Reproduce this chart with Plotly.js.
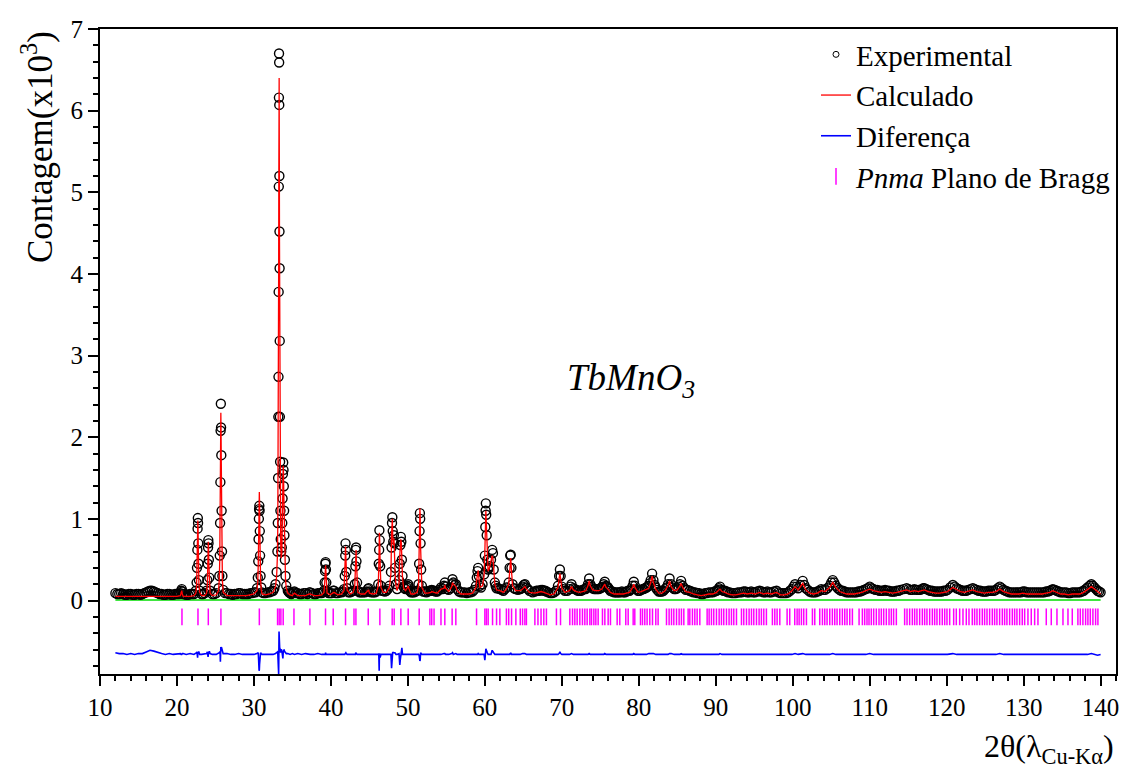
<!DOCTYPE html>
<html>
<head>
<meta charset="utf-8">
<script src="https://cdn.plot.ly/plotly-3.0.1.min.js"></script>
<style>html,body{margin:0;padding:0;background:#fff}#chart{width:1123px;height:768px}</style>
</head>
<body>
<div id="chart"></div>
<script>
// 2theta (degrees) of sampled points (observed + calculated)
const twoTheta = [
12.0,12.5,13.0,13.5,14.0,14.5,15.0,15.5,16.0,16.5,17.0,17.5,18.0,18.5,19.0,19.5,20.0,
20.45,20.55,20.62,20.7,20.8,21.2,21.7,22.2,
22.45,22.55,22.6,22.65,22.68,22.71,22.74,22.77,22.8,22.85,22.95,
23.2,23.6,23.85,23.95,24.0,24.04,24.07,24.1,24.14,24.2,24.3,24.6,25.1,
25.4,25.5,25.56,25.6,25.64,25.67,25.7,25.73,25.76,25.8,25.85,25.9,26.0,
26.5,27.0,27.5,28.0,28.5,29.0,29.5,30.0,
30.4,30.5,30.56,30.6,30.64,30.67,30.7,30.73,30.76,30.8,30.86,30.95,31.05,
31.5,32.0,32.5,
32.8,32.95,33.05,33.1,33.14,33.17,33.19,33.21,33.23,33.245,33.26,33.275,33.29,33.305,33.32,33.335,33.35,33.37,33.4,33.44,33.48,
33.55,33.62,33.68,33.72,33.76,33.8,33.84,33.88,33.92,33.96,34.02,34.1,34.2,34.4,
34.7,35.0,35.15,35.25,35.7,36.2,36.7,37.2,37.3,37.8,38.3,38.8,
39.1,39.18,39.24,39.28,39.31,39.35,39.4,39.5,39.9,40.3,40.4,40.9,41.4,
41.7,41.8,41.86,41.9,41.94,42.0,42.1,42.5,42.9,43.1,43.18,43.23,43.27,43.32,43.4,43.5,
43.9,44.4,44.8,44.9,45.0,45.5,45.9,46.15,46.22,46.27,46.3,46.34,46.4,46.5,
46.8,47.2,47.6,47.8,47.88,47.94,47.98,48.03,48.1,48.18,48.24,48.32,48.45,48.6,
48.85,48.95,49.02,49.09,49.15,49.22,49.3,49.45,49.7,49.95,50.04,50.12,50.4,50.8,51.2,
51.38,51.46,51.52,51.56,51.6,51.65,51.72,51.82,52.2,52.6,
53.0,53.1,53.4,53.8,54.3,54.7,54.8,54.9,55.3,55.7,55.8,55.9,56.23,56.4,
56.9,57.4,57.9,58.4,58.85,58.95,59.05,59.13,59.22,59.35,
59.7,59.9,60.0,60.06,60.1,60.13,60.18,60.24,60.32,60.42,
60.6,60.8,60.95,61.05,61.15,61.3,61.52,61.95,62.4,62.8,63.1,63.22,63.3,63.36,63.45,63.6,64.0,
64.6,64.9,65.2,65.4,65.8,66.5,66.9,67.3,67.66,68.0,68.5,69.0,69.5,69.65,69.75,69.85,70.0,70.4,
71.0,71.26,71.5,71.9,72.3,72.7,73.1,73.4,73.55,73.7,74.0,74.4,74.8,75.2,75.45,75.58,75.75,76.0,76.3,
76.8,77.2,77.6,78.0,78.4,78.8,79.2,79.35,79.5,79.9,80.3,80.6,81.0,81.3,81.55,81.73,81.9,82.2,82.6,83.0,83.4,
83.8,84.0,84.2,84.6,85.0,85.35,85.5,85.7,86.1,86.6,87.1,87.6,88.1,88.6,89.1,89.6,90.1,
90.4,90.55,90.8,91.2,91.6,92.1,92.6,93.1,93.6,94.1,94.6,95.1,95.7,96.2,96.7,97.2,97.9,98.4,98.9,99.4,99.9,
100.3,100.7,101.3,101.7,102.2,102.7,103.2,103.7,104.2,104.8,105.2,105.6,106.1,106.5,107.0,107.5,108.0,108.5,109.0,109.5,
110.0,110.5,111.0,111.5,112.0,112.5,113.0,113.5,114.0,114.8,115.3,115.8,116.3,116.8,117.1,117.6,118.1,118.6,119.1,119.6,
120.1,120.8,121.3,121.8,122.3,122.8,123.4,123.9,124.4,124.9,125.4,125.9,126.4,126.9,127.4,127.9,128.4,128.9,129.4,129.9,
130.4,130.9,131.4,131.9,132.4,132.9,133.4,133.8,134.3,134.8,135.3,135.8,136.3,136.8,137.3,137.8,138.3,138.8,139.2,139.6,140.0
];
// observed counts (x10^3)
const yObs = [
0.09,0.08,0.08,0.07,0.08,0.07,0.08,0.08,0.10,0.12,0.11,0.09,0.08,0.07,0.08,0.07,0.08,
0.09,0.12,0.14,0.11,0.08,0.07,0.08,0.08,
0.12,0.22,0.40,0.62,0.88,1.01,0.95,0.70,0.45,0.25,0.12,
0.08,0.09,0.12,0.25,0.45,0.65,0.74,0.70,0.50,0.28,0.12,0.08,0.09,
0.15,0.30,0.55,0.95,1.45,2.08,2.41,2.12,1.78,1.10,0.60,0.30,0.13,
0.09,0.08,0.08,0.09,0.08,0.08,0.09,0.10,
0.15,0.28,0.48,0.75,1.00,1.12,1.16,1.10,0.85,0.55,0.30,0.16,0.10,
0.09,0.10,0.12,
0.20,0.35,0.60,0.95,1.50,2.25,2.74,3.78,5.07,6.16,6.70,6.59,6.07,5.20,4.52,4.07,3.18,2.25,1.70,1.10,0.75,
0.60,0.65,0.95,1.25,1.55,1.69,1.60,1.40,1.10,0.80,0.50,0.30,0.18,0.12,
0.09,0.09,0.10,0.11,0.09,0.08,0.09,0.10,0.10,0.08,0.09,0.09,
0.12,0.22,0.36,0.45,0.47,0.38,0.22,0.11,0.09,0.12,0.12,0.09,0.10,
0.14,0.30,0.55,0.70,0.62,0.35,0.15,0.10,0.12,0.20,0.42,0.62,0.65,0.48,0.22,0.12,
0.10,0.10,0.14,0.15,0.11,0.10,0.11,0.20,0.45,0.62,0.86,0.74,0.42,0.18,
0.12,0.12,0.18,0.35,0.65,0.95,1.02,0.85,0.72,0.80,0.70,0.40,0.20,0.14,
0.25,0.45,0.68,0.78,0.72,0.50,0.30,0.17,0.14,0.18,0.20,0.17,0.10,0.10,0.12,
0.20,0.45,0.85,1.07,1.00,0.70,0.38,0.18,0.11,0.11,
0.12,0.13,0.12,0.11,0.16,0.18,0.22,0.17,0.13,0.20,0.26,0.22,0.20,0.14,
0.10,0.10,0.10,0.11,0.18,0.28,0.36,0.40,0.30,0.18,
0.20,0.32,0.55,0.90,1.10,1.19,1.05,0.80,0.50,0.38,
0.42,0.50,0.62,0.58,0.38,0.22,0.15,0.14,0.12,0.16,0.22,0.40,0.55,0.56,0.40,0.20,0.14,
0.14,0.17,0.20,0.16,0.12,0.11,0.12,0.13,0.12,0.11,0.09,0.10,0.18,0.30,0.38,0.30,0.17,0.12,
0.14,0.20,0.15,0.13,0.12,0.13,0.14,0.20,0.27,0.20,0.15,0.14,0.14,0.16,0.20,0.23,0.18,0.16,0.12,
0.10,0.10,0.10,0.10,0.11,0.12,0.18,0.23,0.18,0.12,0.13,0.14,0.16,0.18,0.25,0.33,0.25,0.16,0.11,0.11,0.14,
0.20,0.27,0.20,0.14,0.15,0.20,0.24,0.18,0.13,0.12,0.10,0.09,0.08,0.09,0.10,0.10,0.12,
0.15,0.17,0.13,0.12,0.10,0.09,0.09,0.10,0.11,0.10,0.11,0.10,0.12,0.10,0.11,0.10,0.12,0.09,0.09,0.10,0.14,
0.20,0.15,0.24,0.15,0.11,0.10,0.11,0.14,0.13,0.18,0.25,0.18,0.13,0.12,0.10,0.10,0.10,0.11,0.12,0.14,
0.17,0.14,0.13,0.12,0.13,0.12,0.11,0.12,0.13,0.15,0.13,0.14,0.13,0.14,0.15,0.13,0.12,0.11,0.11,0.12,
0.13,0.19,0.15,0.13,0.12,0.13,0.15,0.13,0.12,0.11,0.12,0.12,0.13,0.17,0.13,0.11,0.10,0.10,0.10,0.11,
0.10,0.10,0.10,0.10,0.10,0.11,0.12,0.14,0.12,0.10,0.10,0.09,0.10,0.10,0.10,0.12,0.16,0.20,0.16,0.12,0.10
];
// calculated counts (x10^3)
const yCalc = [
0.05,0.05,0.05,0.05,0.05,0.05,0.05,0.05,0.05,0.05,0.05,0.05,0.05,0.05,0.05,0.05,0.05,
0.06,0.10,0.12,0.08,0.05,0.05,0.05,0.06,
0.09,0.18,0.35,0.60,0.90,0.98,0.90,0.66,0.40,0.20,0.10,
0.06,0.06,0.09,0.20,0.42,0.66,0.72,0.66,0.45,0.22,0.09,0.06,0.07,
0.12,0.26,0.50,0.90,1.52,2.10,2.30,2.05,1.68,1.00,0.52,0.25,0.10,
0.06,0.06,0.06,0.06,0.06,0.06,0.07,0.08,
0.12,0.24,0.44,0.78,1.10,1.30,1.33,1.20,0.90,0.52,0.26,0.13,0.08,
0.07,0.08,0.10,
0.17,0.30,0.55,0.92,1.55,2.40,2.96,4.00,5.10,6.00,6.40,6.40,5.90,5.10,4.40,3.95,3.10,2.15,1.62,1.05,0.70,
0.52,0.58,0.92,1.28,1.58,1.65,1.55,1.32,1.02,0.74,0.45,0.26,0.15,0.09,
0.07,0.06,0.08,0.09,0.06,0.06,0.06,0.08,0.08,0.06,0.06,0.07,
0.10,0.20,0.34,0.42,0.43,0.36,0.20,0.09,0.07,0.10,0.10,0.07,0.08,
0.12,0.28,0.52,0.66,0.58,0.32,0.13,0.08,0.10,0.18,0.40,0.58,0.62,0.46,0.20,0.10,
0.08,0.08,0.12,0.13,0.09,0.08,0.09,0.18,0.42,0.80,0.83,0.72,0.44,0.16,
0.10,0.10,0.16,0.33,0.80,0.96,1.00,0.80,0.68,0.76,0.66,0.36,0.18,0.12,
0.22,0.56,0.72,0.75,0.70,0.40,0.28,0.15,0.12,0.16,0.18,0.15,0.08,0.08,0.10,
0.18,0.44,0.90,1.13,1.05,0.66,0.36,0.16,0.09,0.09,
0.10,0.11,0.10,0.09,0.14,0.15,0.19,0.15,0.11,0.17,0.22,0.20,0.17,0.12,
0.08,0.08,0.08,0.09,0.16,0.26,0.34,0.37,0.28,0.16,
0.18,0.30,0.60,0.92,1.05,1.10,0.98,0.72,0.46,0.36,
0.40,0.48,0.55,0.52,0.34,0.20,0.13,0.12,0.10,0.14,0.20,0.38,0.52,0.52,0.38,0.18,0.12,
0.12,0.14,0.17,0.14,0.10,0.09,0.10,0.11,0.10,0.09,0.07,0.08,0.16,0.27,0.33,0.27,0.15,0.10,
0.12,0.17,0.13,0.11,0.10,0.11,0.12,0.18,0.24,0.18,0.13,0.12,0.12,0.14,0.18,0.20,0.16,0.14,0.10,
0.08,0.08,0.08,0.08,0.09,0.10,0.16,0.20,0.16,0.10,0.11,0.12,0.14,0.15,0.22,0.30,0.22,0.14,0.09,0.09,0.12,
0.18,0.24,0.17,0.12,0.13,0.18,0.21,0.16,0.11,0.10,0.08,0.07,0.06,0.07,0.08,0.08,0.10,
0.13,0.14,0.11,0.10,0.08,0.07,0.07,0.08,0.09,0.08,0.09,0.08,0.10,0.08,0.09,0.08,0.10,0.07,0.07,0.08,0.12,
0.17,0.13,0.21,0.13,0.09,0.08,0.09,0.12,0.11,0.16,0.22,0.16,0.11,0.10,0.08,0.08,0.08,0.09,0.10,0.12,
0.14,0.12,0.11,0.10,0.11,0.10,0.09,0.10,0.11,0.13,0.11,0.12,0.11,0.12,0.13,0.11,0.10,0.09,0.09,0.10,
0.11,0.16,0.13,0.11,0.10,0.11,0.13,0.11,0.10,0.09,0.10,0.10,0.11,0.14,0.11,0.09,0.08,0.08,0.08,0.09,
0.08,0.08,0.08,0.08,0.08,0.09,0.10,0.12,0.10,0.08,0.08,0.07,0.08,0.08,0.08,0.10,0.14,0.17,0.14,0.11,0.08
];
// additional observed points between the sampled ones (background regions)
const extraTheta = [
12.25,12.75,13.25,13.75,14.25,14.75,15.25,15.75,16.25,16.75,17.25,17.75,18.25,18.75,19.25,19.75,
20.25,20.95,21.45,21.95,23.4,24.85,26.25,26.75,27.25,27.75,28.25,28.75,29.25,29.75,30.2,31.25,31.75,32.25,32.65,
34.55,34.85,35.45,35.95,36.45,36.95,37.55,38.05,38.55,38.95,39.7,40.1,40.65,41.15,41.55,42.3,42.7,43.7,44.15,44.6,
45.25,45.7,46.65,47.0,47.4,49.55,49.85,50.25,50.6,51.0,52.0,52.4,52.8,53.25,53.6,54.05,54.5,55.1,55.5,56.1,
56.65,57.15,57.65,58.15,58.6,59.5,60.5,61.4,61.75,62.2,62.6,63.8,64.3,64.75,65.05,65.6,66.2,66.7,67.1,67.5,
67.85,68.25,68.75,69.25,70.2,70.7,71.15,71.7,72.1,72.5,72.9,73.25,73.85,74.2,74.6,75.0,75.3,75.9,76.15,76.55,
77.0,77.4,77.8,78.2,78.6,79.0,79.7,80.1,80.45,80.8,81.15,81.4,82.05,82.4,82.8,83.2,83.6,84.4,84.8,85.2,
85.9,86.35,86.85,87.35,87.85,88.35,88.85,89.35,89.85,90.25,91.0,91.4,91.85,92.35,92.85,93.35,93.85,94.35,94.85,95.4,
95.95,96.45,96.95,97.55,98.15,98.65,99.15,99.65,100.1,100.5,101.0,101.5,101.95,102.45,102.95,103.45,103.95,104.5,105.0,105.4,
105.85,106.3,106.75,107.25,107.75,108.25,108.75,109.25,109.75,110.25,110.75,111.25,111.75,112.25,112.75,113.25,113.75,114.4,115.05,115.55,
116.05,116.55,116.95,117.35,117.85,118.35,118.85,119.35,119.85,120.45,121.05,121.55,122.05,122.55,123.1,123.65,124.15,124.65,125.15,125.65,
126.15,126.65,127.15,127.65,128.15,128.65,129.15,129.65,130.15,130.65,131.15,131.65,132.15,132.65,133.15,133.6,134.05,134.55,135.05,135.55,
136.05,136.55,137.05,137.55,138.05,138.55,139.0,139.4,139.8
];
const extraObs = [
0.08,0.09,0.07,0.08,0.07,0.08,0.07,0.09,0.11,0.12,0.10,0.08,0.07,0.08,0.07,0.08,
0.08,0.08,0.07,0.08,0.08,0.08,0.09,0.08,0.07,0.08,0.09,0.08,0.08,0.09,0.10,0.09,0.10,0.11,0.15,
0.10,0.08,0.09,0.08,0.09,0.08,0.09,0.08,0.09,0.10,0.09,0.09,0.09,0.10,0.11,0.10,0.11,0.10,0.10,0.11,
0.10,0.10,0.12,0.11,0.14,0.15,0.16,0.12,0.10,0.11,0.11,0.10,0.12,0.12,0.11,0.13,0.14,0.14,0.15,0.19,
0.11,0.10,0.09,0.10,0.13,0.16,0.40,0.18,0.15,0.13,0.14,0.15,0.13,0.15,0.19,0.14,0.10,0.12,0.12,0.13,
0.12,0.10,0.09,0.12,0.14,0.12,0.17,0.14,0.12,0.12,0.14,0.16,0.17,0.14,0.14,0.15,0.17,0.17,0.14,0.11,
0.10,0.10,0.11,0.10,0.12,0.14,0.14,0.12,0.14,0.15,0.17,0.21,0.19,0.13,0.11,0.12,0.16,0.16,0.14,0.17,
0.15,0.13,0.11,0.10,0.09,0.08,0.09,0.10,0.11,0.13,0.12,0.11,0.10,0.09,0.10,0.10,0.11,0.10,0.10,0.11,
0.11,0.10,0.10,0.11,0.10,0.09,0.09,0.12,0.17,0.17,0.19,0.19,0.13,0.10,0.10,0.12,0.13,0.15,0.22,0.22,
0.15,0.12,0.11,0.10,0.10,0.10,0.11,0.13,0.15,0.15,0.13,0.12,0.12,0.12,0.11,0.11,0.12,0.14,0.14,0.13,
0.13,0.13,0.15,0.14,0.12,0.11,0.11,0.11,0.12,0.16,0.17,0.14,0.12,0.12,0.14,0.14,0.12,0.11,0.11,0.12,
0.12,0.15,0.15,0.12,0.10,0.10,0.10,0.10,0.11,0.10,0.10,0.10,0.10,0.10,0.11,0.13,0.13,0.11,0.10,0.10,
0.09,0.10,0.10,0.11,0.14,0.18,0.18,0.14,0.11
];
// background curve
const bgTheta = [12.0, 140.0];
const bgCounts = [0.005, 0.005];
// Bragg reflection positions (Pnma)
const braggPos = [
20.65,22.73,24.07,25.71,30.7,33.07,33.28,33.5,33.8,35.2,37.27,39.3,40.3,41.9,43.0,43.25,44.85,46.36,47.96,48.22,
49.09,50.04,51.47,52.86,53.1,53.4,54.3,54.8,55.75,56.23,58.92,60.0,60.2,60.43,61.0,61.52,61.95,62.8,63.1,63.47,
64.03,64.6,64.9,65.2,65.4,66.5,66.9,67.3,67.66,68.0,69.3,69.83,71.04,71.39,71.69,71.99,72.34,72.68,72.99,73.29,
73.64,73.86,74.16,74.42,74.72,75.28,75.59,76.02,76.32,77.19,77.53,78.31,78.62,79.27,79.48,80.22,80.48,80.78,81.08,81.43,
81.78,82.21,82.51,83.6,83.94,84.25,84.55,84.9,85.24,85.54,85.85,86.41,86.63,86.97,87.28,87.58,87.93,88.88,89.14,89.44,
89.74,90.09,90.44,90.74,91.04,91.39,91.73,92.04,92.34,92.69,93.34,93.64,93.99,94.33,94.64,94.94,95.29,95.63,95.93,96.24,
96.58,97.36,97.67,97.97,98.32,99.27,99.61,100.26,100.57,100.83,101.13,101.43,101.78,102.56,102.86,103.51,103.86,104.16,104.46,104.81,
105.15,105.46,105.76,106.11,106.45,106.76,107.06,107.41,107.75,108.62,109.05,109.35,109.65,109.91,110.21,110.52,110.86,111.21,111.51,111.82,
112.16,112.51,112.81,113.11,113.46,114.54,114.85,115.19,115.54,115.84,116.14,116.49,116.84,117.14,117.44,117.79,118.14,118.44,118.74,119.09,
119.43,119.74,120.04,120.39,120.91,121.25,121.69,122.12,122.55,122.9,123.33,123.63,123.94,124.28,124.63,124.93,125.24,125.58,125.93,126.23,
126.53,126.88,127.23,127.53,127.83,128.18,128.53,128.83,129.13,129.48,129.82,130.13,130.56,130.99,131.43,131.86,132.94,133.59,134.33,135.11,
135.76,136.32,137.05,137.36,137.7,138.05,138.35,138.66,139.0,139.35,139.65
];
const diffOffset = -0.68;
const braggLevel = -0.2;

const yDiff = yObs.map((v, i) => v - yCalc[i] + diffOffset);
const braggY = braggPos.map(() => braggLevel);
const obsX = twoTheta.concat(extraTheta);
const obsY = yObs.concat(extraObs);

const FONT = 'Liberation Serif, Times New Roman, serif';

const traces = [
  {x: bgTheta, y: bgCounts, type: 'scatter', mode: 'lines', line: {color: '#00dd00', width: 1.5}, showlegend: false, hoverinfo: 'skip'},
  {x: obsX, y: obsY, type: 'scatter', mode: 'markers', name: 'Experimental', showlegend: false,
   marker: {symbol: 'circle-open', size: 9, color: '#000', line: {width: 1.4, color: '#000'}}},
  {x: [null], y: [null], type: 'scatter', mode: 'markers', name: 'Experimental', legendrank: 1,
   marker: {symbol: 'circle-open', size: 6, color: '#000', line: {width: 1, color: '#000'}}},
  {x: twoTheta, y: yCalc, type: 'scatter', mode: 'lines', name: 'Calculado', legendrank: 2,
   line: {color: '#ff0000', width: 1.3}},
  {x: twoTheta, y: yDiff, type: 'scatter', mode: 'lines', name: 'Diferença', legendrank: 3,
   line: {color: '#0000ff', width: 1.6}},
  {x: braggPos, y: braggY, type: 'scatter', mode: 'markers', name: '<i>Pnma</i> Plano de Bragg', legendrank: 4,
   marker: {symbol: 'line-ns-open', size: 12, color: '#ff00ff', line: {width: 1.5, color: '#ff00ff'}}}
];

const layout = {
  width: 1123, height: 768,
  paper_bgcolor: '#fff', plot_bgcolor: '#fff',
  margin: {l: 100, r: 7, t: 29, b: 94},
  font: {family: FONT, color: '#000', size: 25},
  showlegend: true,
  legend: {x: 1, xanchor: 'right', y: 1, yanchor: 'top', bgcolor: 'rgba(0,0,0,0)',
           font: {family: FONT, size: 29, color: '#000'}},
  xaxis: {
    range: [10, 142], tickmode: 'linear', tick0: 10, dtick: 10,
    ticks: 'outside', ticklen: 10, tickwidth: 2, tickcolor: '#000',
    minor: {tickmode: 'linear', tick0: 10, dtick: 2, ticks: 'outside', ticklen: 5, tickwidth: 2, tickcolor: '#000'},
    showline: true, linewidth: 2, linecolor: '#000', mirror: true,
    showgrid: false, zeroline: false,
    tickfont: {family: FONT, size: 25, color: '#000'}
  },
  yaxis: {
    range: [-0.9, 7], tickmode: 'linear', tick0: 0, dtick: 1,
    ticks: 'outside', ticklen: 10, tickwidth: 2, tickcolor: '#000',
    minor: {tickmode: 'linear', tick0: 0, dtick: 0.2, ticks: 'outside', ticklen: 5, tickwidth: 2, tickcolor: '#000'},
    showline: true, linewidth: 2, linecolor: '#000', mirror: true,
    showgrid: false, zeroline: false,
    tickfont: {family: FONT, size: 25, color: '#000'}
  },
  annotations: [
    {xref: 'paper', yref: 'paper', x: -0.062, y: 0.817, xanchor: 'center', yanchor: 'middle', textangle: -90,
     text: 'Contagem(x10<sup>3</sup>)', showarrow: false, font: {family: FONT, size: 35, color: '#000'}},
    {xref: 'x', yref: 'y', x: 79, y: 2.7, text: '<i>TbMnO<sub>3</sub></i>', showarrow: false,
     font: {family: FONT, size: 37, color: '#000'}},
    {xref: 'paper', yref: 'paper', x: 1, xanchor: 'right', y: -0.115, yanchor: 'middle',
     text: '2θ(λ<sub>Cu-Kα</sub>)', showarrow: false, font: {family: FONT, size: 32, color: '#000'}}
  ]
};

Plotly.newPlot('chart', traces, layout, {displayModeBar: false, staticPlot: true});
</script>
</body>
</html>
